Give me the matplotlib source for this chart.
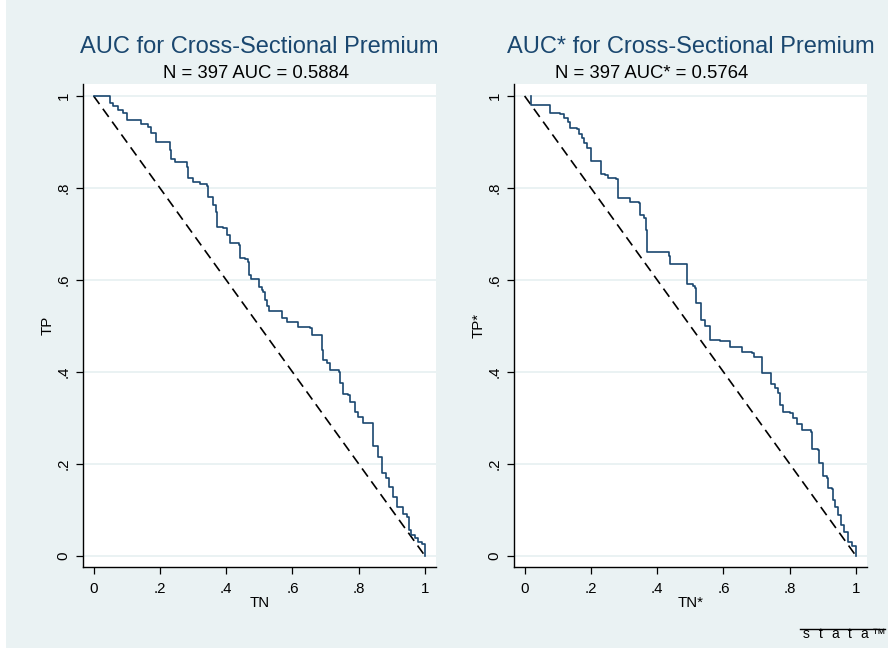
import numpy as np
import matplotlib.pyplot as plt
from matplotlib.patches import Rectangle
from matplotlib.lines import Line2D

plt.rcParams['font.family'] = ['Liberation Sans', 'DejaVu Sans']

# ROC step points, left panel (TN, TP)
tn_left = [0.000, 0.046, 0.048, 0.058, 0.073, 0.088, 0.101, 0.134, 0.144, 0.164,
           0.174, 0.187, 0.221, 0.229, 0.234, 0.245, 0.275, 0.282, 0.285, 0.300,
           0.320, 0.341, 0.346, 0.361, 0.369, 0.373, 0.391, 0.401, 0.411, 0.411,
           0.439, 0.441, 0.456, 0.466, 0.469, 0.475, 0.496, 0.499, 0.507, 0.512,
           0.517, 0.522, 0.530, 0.562, 0.567, 0.582, 0.612, 0.617, 0.653, 0.658,
           0.683, 0.688, 0.693, 0.703, 0.713, 0.741, 0.743, 0.753, 0.768, 0.773,
           0.788, 0.798, 0.814, 0.839, 0.842, 0.854, 0.859, 0.869, 0.869, 0.882,
           0.892, 0.904, 0.914, 0.934, 0.944, 0.952, 0.959, 0.969, 0.979, 0.992,
           0.999, 1.000]
tp_left = [1.000, 1.000, 0.984, 0.978, 0.969, 0.962, 0.948, 0.948, 0.939, 0.932,
           0.919, 0.899, 0.899, 0.883, 0.862, 0.857, 0.857, 0.845, 0.821, 0.813,
           0.809, 0.804, 0.780, 0.762, 0.748, 0.715, 0.712, 0.697, 0.694, 0.680,
           0.676, 0.647, 0.645, 0.638, 0.611, 0.602, 0.602, 0.585, 0.578, 0.574,
           0.556, 0.543, 0.533, 0.533, 0.517, 0.509, 0.509, 0.497, 0.495, 0.481,
           0.481, 0.448, 0.426, 0.419, 0.404, 0.399, 0.375, 0.353, 0.350, 0.335,
           0.314, 0.303, 0.288, 0.288, 0.238, 0.238, 0.216, 0.205, 0.180, 0.169,
           0.151, 0.129, 0.107, 0.092, 0.085, 0.056, 0.045, 0.038, 0.031, 0.027,
           0.016, 0.000]

# ROC step points, right panel (TN*, TP*)
tn_right = [0.020, 0.020, 0.076, 0.078, 0.108, 0.118, 0.130, 0.136, 0.159, 0.164,
            0.174, 0.179, 0.187, 0.197, 0.199, 0.229, 0.231, 0.244, 0.251, 0.277,
            0.281, 0.314, 0.319, 0.344, 0.349, 0.361, 0.367, 0.370, 0.400, 0.435,
            0.440, 0.485, 0.490, 0.508, 0.515, 0.518, 0.530, 0.533, 0.545, 0.558,
            0.560, 0.590, 0.620, 0.656, 0.686, 0.691, 0.716, 0.716, 0.739, 0.743,
            0.756, 0.763, 0.771, 0.779, 0.801, 0.811, 0.821, 0.837, 0.863, 0.866,
            0.886, 0.889, 0.899, 0.911, 0.914, 0.926, 0.929, 0.936, 0.946, 0.956,
            0.964, 0.977, 0.987, 0.999, 1.000]
tp_right = [1.000, 0.980, 0.980, 0.962, 0.961, 0.953, 0.944, 0.930, 0.928, 0.917,
            0.908, 0.897, 0.886, 0.886, 0.859, 0.857, 0.830, 0.828, 0.821, 0.820,
            0.779, 0.779, 0.770, 0.768, 0.742, 0.734, 0.709, 0.660, 0.660, 0.652,
            0.634, 0.634, 0.591, 0.587, 0.582, 0.551, 0.549, 0.513, 0.500, 0.498,
            0.469, 0.468, 0.455, 0.444, 0.442, 0.432, 0.432, 0.398, 0.397, 0.374,
            0.365, 0.354, 0.329, 0.314, 0.311, 0.300, 0.286, 0.274, 0.270, 0.233,
            0.230, 0.203, 0.174, 0.170, 0.148, 0.146, 0.122, 0.107, 0.089, 0.067,
            0.053, 0.031, 0.022, 0.002, 0.000]

ticks = [0, 0.2, 0.4, 0.6, 0.8, 1]
tick_labels = ['0', '.2', '.4', '.6', '.8', '1']

panels = [
    ('AUC for Cross-Sectional Premium', 'N = 397 AUC = 0.5884', 'TN', 'TP', tn_left, tp_left),
    ('AUC* for Cross-Sectional Premium', 'N = 397 AUC* = 0.5764', 'TN*', 'TP*', tn_right, tp_right),
]

bg = '#EAF2F3'
navy = '#1A476F'

fig = plt.figure(figsize=(8.88, 6.49), dpi=100, facecolor='white')
fig.patches.append(Rectangle((6 / 888, 1 / 649), 882 / 888, 648 / 649,
                             transform=fig.transFigure, facecolor=bg,
                             edgecolor='none', zorder=-10))

lefts = [83 / 888, 514 / 888]
# subtitle centre in axes fraction (the right one sits left of centre)
sub_x = [0.49, 0.39]
for left, sx, (title, subtitle, xlab, ylab, xs, ys) in zip(lefts, sub_x, panels):
    ax = fig.add_axes([left, 1 - 567 / 649, 353 / 888, 483 / 649])
    ax.set_facecolor('white')
    ax.set_xlim(-0.032, 1.033)
    ax.set_ylim(-0.024, 1.026)

    ax.plot(xs, ys, drawstyle='steps-post', color=navy, linewidth=1.2, zorder=3)
    ax.plot([0, 1], [1, 0], color='black', linewidth=1.2,
            dashes=(6, 3.5), zorder=2)

    ax.set_xticks(ticks)
    ax.set_xticklabels(tick_labels)
    ax.set_yticks(ticks)
    ax.set_yticklabels(tick_labels, rotation=90, va='center')
    ax.tick_params(direction='out', length=5, width=0.9, labelsize=10.8)
    ax.tick_params(axis='x', pad=6)
    ax.tick_params(axis='y', pad=4)
    ax.yaxis.grid(True, color=bg, linewidth=1.4)
    ax.xaxis.grid(False)
    ax.set_axisbelow(True)

    for side in ['top', 'right']:
        ax.spines[side].set_visible(False)
    for side in ['left', 'bottom']:
        ax.spines[side].set_linewidth(1.0)

    ax.set_xlabel(xlab, fontsize=10.8, labelpad=0)
    ax.set_ylabel(ylab, fontsize=10.8, labelpad=1)

    ax.text(0.5, 0.064, title, transform=ax.transAxes, ha='center',
            va='baseline', fontsize=17, color=navy)
    ax.texts[-1].set_y(1.064)
    ax.text(sx, 1.013, subtitle, transform=ax.transAxes, ha='center',
            va='baseline', fontsize=13.3, color='black')

# Stata logo
fig.lines.append(Line2D([800 / 888, 885 / 888], [1 - 629 / 649, 1 - 629 / 649],
                        transform=fig.transFigure, color='black', linewidth=1))
logo = 'stata\u2122'
for i, ch in enumerate(logo):
    fig.text((806 + i * 14.5) / 888, 1 - 638 / 649, ch, ha='center',
             va='baseline', fontsize=10, color='black')

fig.savefig('out.png', dpi=100, facecolor=fig.get_facecolor())
